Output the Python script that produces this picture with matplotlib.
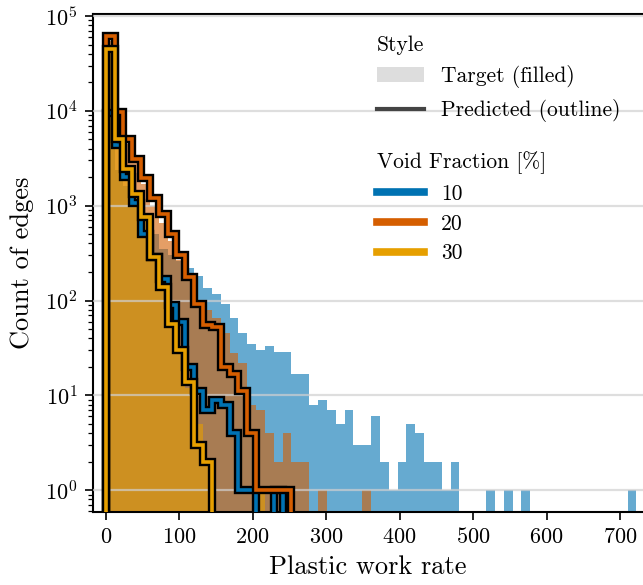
import numpy as np
import matplotlib
matplotlib.use("Agg")
import matplotlib.pyplot as plt
import matplotlib.patheffects as pe
from matplotlib.patches import Patch
from matplotlib.lines import Line2D

plt.rcParams["font.family"] = "serif"
plt.rcParams["font.serif"] = ["cmr10"]
plt.rcParams["mathtext.fontset"] = "cm"
plt.rcParams["axes.formatter.use_mathtext"] = True

# Shared histogram bins: 60 bins spanning the plastic work rate range
N_BINS = 60
RATE_MAX = 722.0

# Target counts per bin (void fraction 10 / 20 / 30 %)
target_10 = [40000, 2400, 1600, 1100, 750, 500, 350, 300, 260, 220,
             180, 137, 118, 93, 65, 45, 35, 30, 33, 29,
             29, 17, 17, 8, 9, 7, 5, 7, 3, 3,
             6, 2, 1, 2, 5, 4, 2, 2, 1, 2,
             0, 0, 0, 1, 0, 1, 0, 1, 0, 0,
             0, 0, 0, 0, 0, 0, 0, 0, 0, 1]
target_20 = [55000, 9000, 4500, 2800, 1700, 1000, 650, 420, 270, 160,
             100, 80, 65, 45, 28, 22, 8, 7, 4, 2,
             4, 2, 2, 0, 1, 0, 0, 0, 0, 1]
target_30 = [42000, 5200, 2600, 1300, 700, 320, 150, 62, 30, 12,
             5, 2, 0, 0, 0, 0, 0, 1]

# Predicted counts per bin
pred_10 = [9600, 4400, 2000, 1070, 506, 290, 170, 89, 60, 20,
           11, 7, 9, 8, 4, 1, 1, 0, 0, 1]
pred_20 = [61600, 9770, 5070, 3120, 1970, 1215, 824, 507, 305, 175,
           93, 55, 52, 20, 17, 11, 4, 1, 1, 1, 1]
pred_30 = [45000, 5000, 2450, 1330, 754, 286, 138, 57, 30, 14,
           3, 2]

void_labels = ["10", "20", "30"]
colors = ["#0072B2", "#D55E00", "#E69F00"]


def padded(counts):
    out = np.zeros(N_BINS)
    out[:len(counts)] = counts
    return out


edges = np.linspace(0.0, RATE_MAX, N_BINS + 1)
floor = 1e-2  # empty bins drop below the visible range

fig = plt.figure(figsize=(6.43, 5.85), dpi=100)
ax = fig.add_axes([0.1446, 0.1248, 0.8554, 0.8513])
ax.set_yscale("log")

targets = [target_10, target_20, target_30]
preds = [pred_10, pred_20, pred_30]

for counts, c in zip(targets, colors):
    v = np.maximum(padded(counts), floor)
    ax.stairs(v, edges, baseline=floor, fill=True, color=c, alpha=0.6,
              linewidth=0, zorder=1)

for counts, c in zip(preds, colors):
    v = np.maximum(padded(counts), floor)
    ax.stairs(v, edges, baseline=floor, fill=False, color=c, linewidth=2.6,
              zorder=3,
              path_effects=[pe.Stroke(linewidth=6.0, foreground="black"),
                            pe.Normal()])

ax.set_xlim(-17.3, 731)
ax.set_ylim(0.59, 1.05e5)
ax.set_xticks(np.arange(0, 701, 100))

ax.yaxis.grid(True, which="major", color="#d0d0d0", linewidth=1.6, alpha=0.7,
              zorder=2)
ax.set_axisbelow(False)
for ln in ax.get_ygridlines():
    ln.set_zorder(2)

for side in ["left", "bottom", "top"]:
    ax.spines[side].set_linewidth(1.5)
    ax.spines[side].set_color("black")
ax.spines["right"].set_visible(False)

ax.tick_params(axis="both", which="major", direction="out", length=6,
               width=1.2, labelsize=16, color="black", pad=5)
ax.tick_params(axis="y", which="minor", direction="out", length=3.5, width=0.9)

ax.set_xlabel("Plastic work rate", fontsize=19, labelpad=6)
ax.set_ylabel("Count of edges", fontsize=19, labelpad=8)

# Legend: drawing style
style_handles = [Patch(facecolor="#dddddd", edgecolor="none"),
                 Line2D([], [], color="#444444", linewidth=3)]
leg1 = ax.legend(style_handles, ["Target (filled)", "Predicted (outline)"],
                 title="Style", alignment="left", loc="upper left",
                 bbox_to_anchor=(0.5, 0.975), frameon=False, fontsize=15.5,
                 title_fontsize=15.5, handlelength=2.2, handletextpad=0.8,
                 borderaxespad=0, labelspacing=0.5)
ax.add_artist(leg1)

# Legend: void fraction colours
vf_handles = [Line2D([], [], color=c, linewidth=5.5) for c in colors]
ax.legend(vf_handles, void_labels, title="Void Fraction [%]", alignment="left",
          loc="upper left", bbox_to_anchor=(0.5, 0.742), frameon=False,
          fontsize=15.5, title_fontsize=15.5, handlelength=2.2,
          handletextpad=0.8, borderaxespad=0, labelspacing=0.48)

fig.savefig("out.png", dpi=100)
